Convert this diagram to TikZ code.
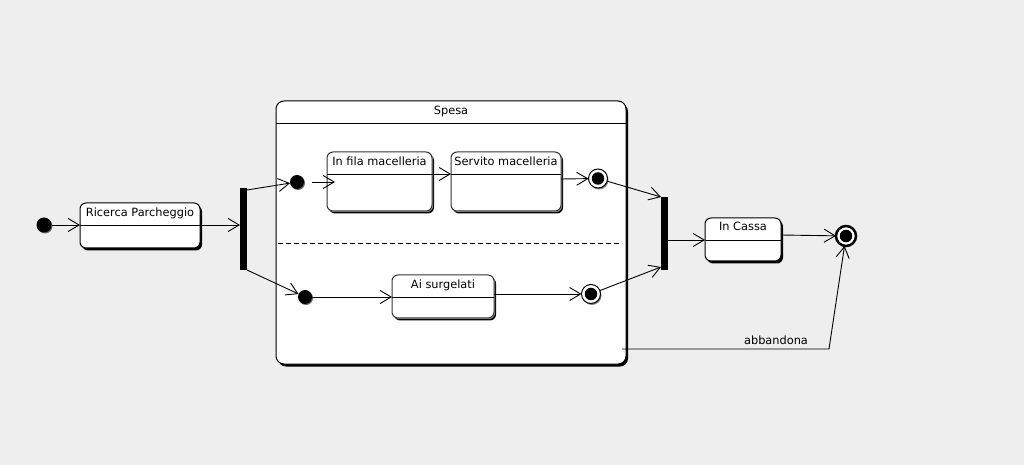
\documentclass[tikz,border=0pt]{standalone}
\usepackage{fontspec}
\setmainfont{DejaVu Sans}
\usetikzlibrary{arrows.meta,shadows,calc}
\begin{document}
\begin{tikzpicture}[x=1bp,y=-1bp,
  every node/.style={inner sep=0pt,outer sep=0pt},
  statebox/.style={draw=black,line width=1bp,fill=white,rounded corners=6bp,
    drop shadow={shadow xshift=2bp,shadow yshift=-2.5bp,fill=black,opacity=1}},
  lbl/.style={anchor=base,font=\fontsize{11.4}{13}\selectfont},
  initdot/.style={circle,fill=black,minimum size=15bp,
    drop shadow={shadow xshift=1bp,shadow yshift=-1bp,fill=black!60,opacity=1}},
  finin/.style={circle,draw=black,line width=1bp,fill=white,minimum size=19bp,
    drop shadow={shadow xshift=1bp,shadow yshift=-1.5bp,fill=black!50,opacity=1}},
  bar/.style={fill=black,minimum width=7bp},
  tr/.style={draw=black,line width=0.9bp,-{Straight Barb[length=11bp,width=13bp,line width=0.9bp]}},
  plain/.style={draw=black,line width=0.9bp}]
\useasboundingbox[fill={rgb,255:red,238;green,238;blue,238}] (0,0) rectangle (1024,465);

% composite state
\node[statebox,rounded corners=8bp,minimum width=350bp,minimum height=263bp] (sp) at (451,232.5) {};
\draw[plain] (sp.west |- 0,123) -- (sp.east |- 0,123);
\node[lbl] (spt) at (451,115) {Spesa};
\draw[plain,dashed,dash pattern=on 5bp off 3bp] ($(sp.west |- 0,243)+(2,0)$) -- ($(sp.east |- 0,243)+(-4,0)$);

% simple states
\node[statebox,minimum width=120bp,minimum height=45bp] (rp) at (140,225.5) {};
\draw[plain] (rp.west |- 0,225) -- (rp.east |- 0,225);
\node[lbl] (rpt) at (140,217) {Ricerca Parcheggio};

\node[statebox,draw=black!80,drop shadow={shadow xshift=1bp,shadow yshift=-1bp,fill=black!40,opacity=1},minimum width=105bp,minimum height=59bp] (fm) at (379.5,181.5) {};
\draw[plain] (fm.west |- 0,174) -- (fm.east |- 0,174);
\node[lbl] (fmt) at (379.5,166) {In fila macelleria};

\node[statebox,draw=black!80,drop shadow={shadow xshift=1bp,shadow yshift=-1bp,fill=black!40,opacity=1},minimum width=110bp,minimum height=59bp] (sm) at (506,181.5) {};
\draw[plain] (sm.west |- 0,174) -- (sm.east |- 0,174);
\node[lbl] (smt) at (506,166) {Servito macelleria};

\node[statebox,draw=black!80,drop shadow={shadow xshift=1bp,shadow yshift=-1bp,fill=black!40,opacity=1},minimum width=102bp,minimum height=43bp] (ai) at (443,296.5) {};
\draw[plain] (ai.west |- 0,297) -- (ai.east |- 0,297);
\node[lbl] (ait) at (443,289) {Ai surgelati};

\node[statebox,minimum width=76bp,minimum height=43bp] (ic) at (743,239.5) {};
\draw[plain] (ic.west |- 0,240) -- (ic.east |- 0,240);
\node[lbl] (ict) at (743,231) {In Cassa};

% pseudo states
\node[initdot] (i0) at (44,225) {};
\node[initdot,minimum size=14bp] (i1) at (297,182) {};
\node[initdot,minimum size=14bp] (i2) at (305,297) {};
\node[bar,minimum height=82bp] (fork) at (243.5,229) {};
\node[bar,minimum height=73bp] (join) at (664.5,233.5) {};

\node[finin] (f1) at (598,178.5) {};
\node[circle,fill=black,minimum size=12.5bp] (f1i) at (f1) {};
\node[finin] (f2) at (591,294) {};
\node[circle,fill=black,minimum size=12.5bp] (f2i) at (f2) {};
\node[circle,draw=black,line width=2.5bp,fill=white,minimum size=20bp] (f3) at (846,236) {};
\node[circle,fill=black,minimum size=12.5bp] (f3i) at (f3) {};

% transitions
\draw[tr] (i0) -- (rp.west |- i0);
\draw[tr] (rp.east |- 0,225) -- (fork.west |- 0,225);
\draw[tr] (fork.east |- 0,190) -- (i1);
\draw[tr] (fork.south east) -- (i2);
\draw[tr] ($(i1)+(15,0)$) -- ($(fm.west |- i1)+(8,0)$);
\draw[tr] (fm.east |- 0,174) -- (sm.west |- 0,174);
\draw[tr] (sm.east |- 0,179) -- (f1);
\draw[tr] (f1) -- (join.north west);
\draw[tr] (i2) -- (ai.west |- i2);
\draw[tr] (ai.east |- 0,294) -- (f2);
\draw[tr] (f2) -- ($(join.south west)+(0,-3)$);
\draw[tr] (join.east |- 0,240) -- (ic.west |- 0,240);
\draw[tr] (ic.east |- 0,235) -- (f3);
\coordinate (ab) at (829,349);
\draw[tr] ($(sp.east |- ab)+(-4,0)$) -- (ab) -- (f3);
\node[lbl] (abt) at (776,345) {abbandona};
\end{tikzpicture}
\end{document}
